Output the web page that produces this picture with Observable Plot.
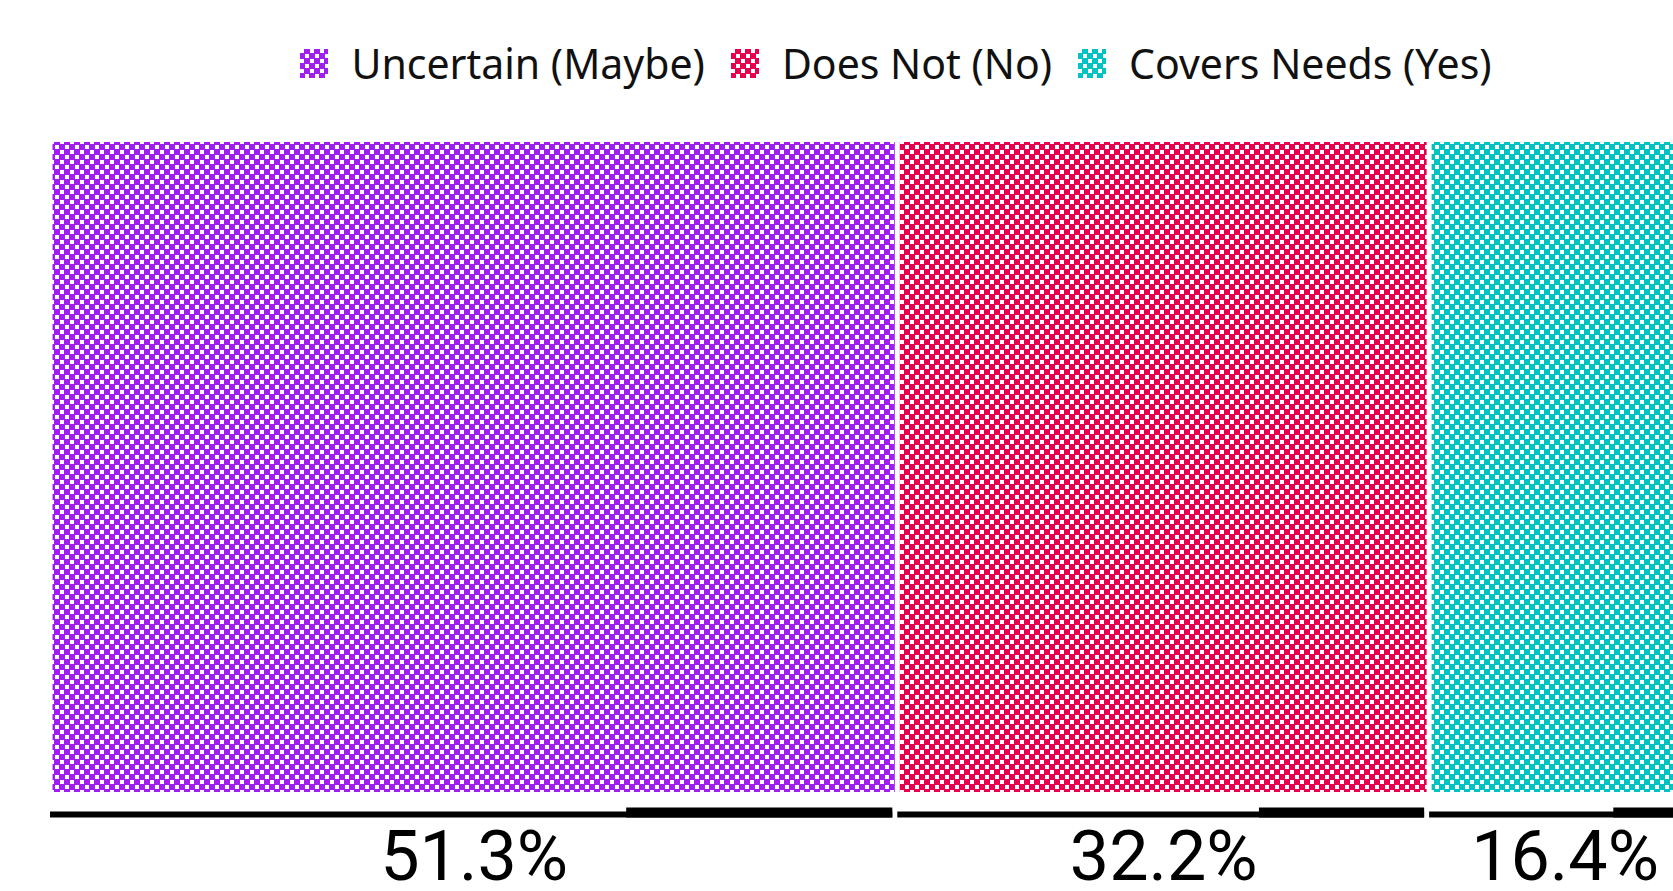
<!DOCTYPE html>
<html>
<head>
<meta charset="utf-8">
<script src="https://cdn.jsdelivr.net/npm/d3@7"></script>
<script src="https://cdn.jsdelivr.net/npm/@observablehq/plot@0.6"></script>
<style>
  html, body { margin: 0; padding: 0; background: #fff; overflow: hidden; }
  #wrap { width: 1792px; font-family: "Noto Sans", Roboto, sans-serif; }
  #legend { height: 110px; display: flex; justify-content: center; align-items: center; padding-top: 16px; box-sizing: border-box; }
  .item { display: flex; align-items: center; font-size: 41px; color: #111; margin: 0 13px; }
  .item svg { margin-right: 23px; }
</style>
</head>
<body>
<div id="wrap">
  <svg width="0" height="0" style="position:absolute">
    <defs id="patdefs"></defs>
  </svg>
  <div id="legend"></div>
  <div id="chart"></div>
</div>
<script>
const categories = ["Uncertain (Maybe)", "Does Not (No)", "Covers Needs (Yes)"];
const values = [51.3, 32.2, 16.4];
const labels = ["51.3%", "32.2%", "16.4%"];
const colors = ["#a01ff0", "#e6004e", "#00c4c4"];

// patterns
const defs = d3.select("#patdefs");
colors.forEach((c, i) => {
  const p = defs.append("pattern")
    .attr("id", "pat" + i)
    .attr("patternUnits", "userSpaceOnUse")
    .attr("width", 10).attr("height", 10);
  p.append("rect").attr("width", 10).attr("height", 10).attr("fill", c);
  p.append("rect").attr("x", 0).attr("y", 0).attr("width", 4).attr("height", 4).attr("fill", "#fff");
  p.append("rect").attr("x", 5).attr("y", 5).attr("width", 4).attr("height", 4).attr("fill", "#fff");
});

// legend
const legend = d3.select("#legend");
categories.forEach((c, i) => {
  const it = legend.append("div").attr("class", "item");
  const s = it.append("svg").attr("width", 28).attr("height", 29);
  s.append("rect").attr("width", 28).attr("height", 29).attr("fill", `url(#pat${i})`);
  it.append("span").text(c);
});

// data table
let cum = 0;
const data = categories.map((c, i) => {
  const d = {category: c, value: values[i], label: labels[i], start: cum, end: cum + values[i], idx: i};
  cum += values[i];
  return d;
});
const total = cum;

const plot = Plot.plot({
  width: 1760,
  height: 781,
  marginLeft: 50,
  marginRight: 60,
  marginTop: 32,
  marginBottom: 99,
  x: {domain: [0, total], axis: null},
  y: {domain: [0, 1], axis: null},
  marks: [
    Plot.rect(data, {
      x1: "start", x2: "end", y1: 0, y2: 1,
      insetLeft: 2.5, insetRight: 2.5,
      fill: d => `url(#pat${d.idx})`
    }),
    Plot.ruleY(data, {
      y: () => 0, x1: "start", x2: "end",
      insetLeft: 0, insetRight: 5,
      dy: 22, stroke: "#000", strokeWidth: 6
    }),
    Plot.ruleY(data, {
      y: () => 0, x1: d => d.start + d.value * 0.68, x2: "end",
      insetRight: 5,
      dy: 20, stroke: "#000", strokeWidth: 10
    }),
    Plot.text(data, {
      x: d => (d.start + d.end) / 2, y: () => 0,
      text: "label", lineAnchor: "bottom", dy: 87,
      fontSize: 70, fill: "#000",
      fontFamily: "Roboto, 'Noto Sans', sans-serif"
    })
  ]
});
document.getElementById("chart").appendChild(plot);
</script>
</body>
</html>
